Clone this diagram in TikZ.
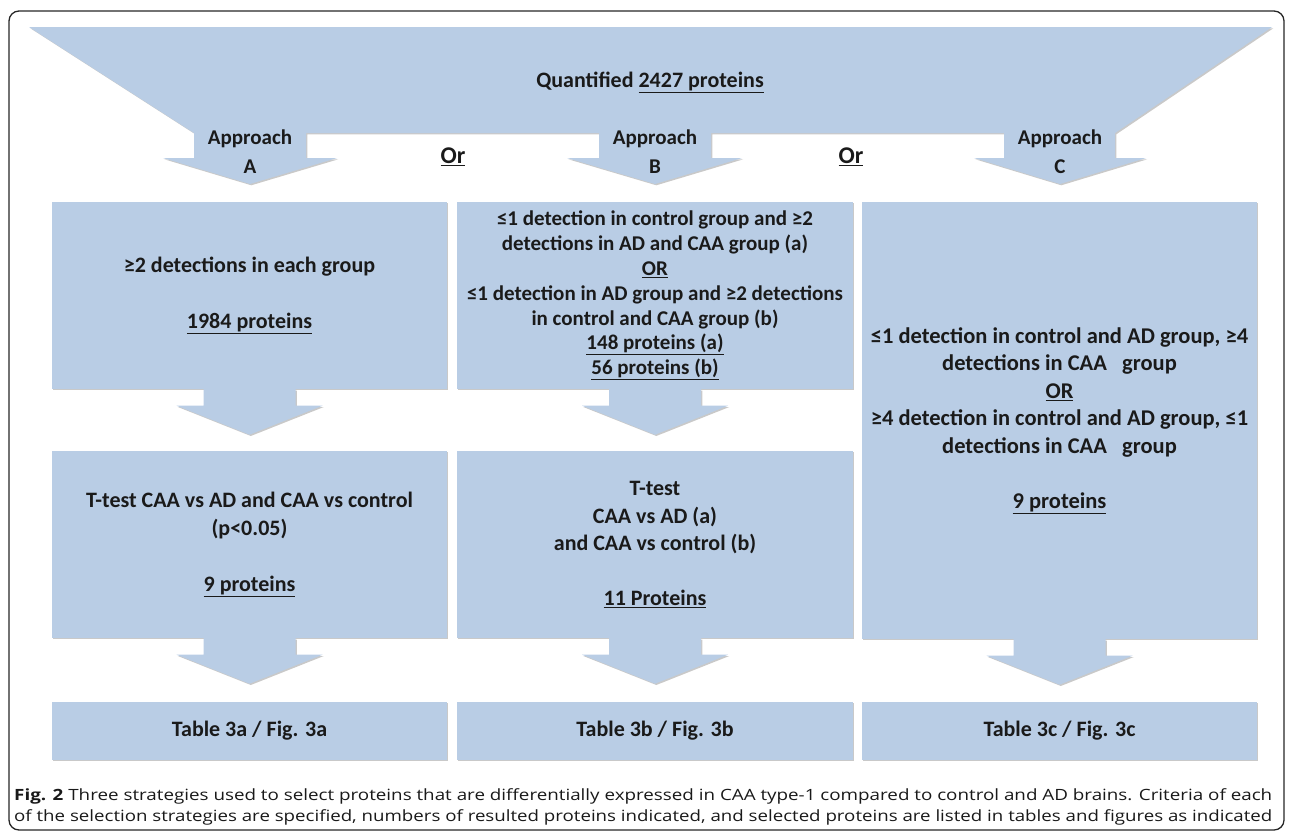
\documentclass[tikz,border=0pt]{standalone}
\usepackage{fontspec}
\setmainfont{Carlito}
\newfontfamily\capfont{Open Sans}
\usetikzlibrary{shadows,calc}
\definecolor{boxblue}{HTML}{B9CDE5}
\definecolor{txt}{HTML}{1A1A1A}
\tikzset{
  shad/.style={drop shadow={shadow xshift=1.3pt, shadow yshift=-1.3pt, opacity=0.30, fill=black!70}},
  blockbox/.style={fill=boxblue, draw=none, inner sep=0pt, align=center, text=txt, shad,
     font=\bfseries\fontsize{22}{27.5}\selectfont},
  lbl/.style={inner sep=0pt, align=center, text=txt, font=\bfseries\fontsize{22}{29}\selectfont},
  downarrow/.pic={\fill[boxblue, shad] (-46,0) -- (-46,16.5) -- (-73,16.5) -- (0,45.5) -- (73,16.5) -- (46,16.5) -- (46,0) -- cycle;},
}
\begin{document}
\begin{tikzpicture}[x=1pt,y=-1pt]
\useasboundingbox (0,0) rectangle (1290,833);
% frame
\draw[line width=1.3pt, rounded corners=10pt, black!85] (9,11) rectangle (1284,830);
% funnel
\fill[boxblue, shad] (29,27) -- (1272,27) -- (1115,133) -- (1115,158) -- (1146,158) -- (1060,184) -- (974,158) -- (1004,158) -- (1004,133)
 -- (711,133) -- (711,158) -- (742,158) -- (655,184) -- (567,158) -- (599,158) -- (599,133)
 -- (306,133) -- (306,158) -- (337,158) -- (250,184) -- (163,158) -- (194,158) -- (194,133) -- cycle;
\node[lbl] (quant) at (650,82) {Quantified \underline{2427 proteins}};
\node[lbl, font=\bfseries\fontsize{21}{29}\selectfont] (apA) at (250,152) {Approach\\A};
\node[lbl, font=\bfseries\fontsize{21}{29}\selectfont] (apB) at (655,152) {Approach\\B};
\node[lbl, font=\bfseries\fontsize{21}{29}\selectfont] (apC) at (1060,152) {Approach\\C};
\node[lbl, font=\bfseries\fontsize{24}{29}\selectfont] (or1) at (453,157) {\underline{Or}};
\node[lbl, font=\bfseries\fontsize{24}{29}\selectfont] (or2) at (851,157) {\underline{Or}};
% row 1
\node[blockbox, minimum width=395pt, minimum height=187pt] (a1) at (249.5,295.5)
  {≥2 detections in each group\\[28.5pt]\underline{1984 proteins}};
\node[blockbox, minimum width=396pt, minimum height=187pt, font=\bfseries\fontsize{21}{24.8}\selectfont] (b1) at (655,295.5)
  {≤1 detection in control group and ≥2\\detections in AD and CAA group (a)\\\underline{OR}\\≤1 detection in AD group and ≥2 detections\\in control and CAA group (b)\\\underline{148 proteins (a)}\\\underline{56 proteins (b)}};
\node[blockbox, minimum width=395pt, minimum height=437pt, font=\bfseries\fontsize{22.5}{27.5}\selectfont] (c1) at (1059.5,420.5)
  {≤1 detection in control and AD group, ≥4\\detections in CAA~~~group\\\underline{OR}\\≥4 detection in control and AD group, ≤1\\detections in CAA~~~group\\[27.5pt]\underline{9 proteins}};
% row 2
\node[blockbox, minimum width=395pt, minimum height=187pt, font=\bfseries\fontsize{22}{28.4}\selectfont] (a2) at (249.5,544.5)
  {T-test CAA vs AD and CAA vs control\\(p<0.05)\\[27pt]\underline{9 proteins}};
\node[blockbox, minimum width=396pt, minimum height=187pt] (b2) at (655,544.5)
  {T-test\\CAA vs AD (a)\\and CAA vs control (b)\\[27.5pt]\underline{11 Proteins}};
% tables
\node[blockbox, minimum width=395pt, minimum height=58pt] (a3) at (249.5,731) {Table 3a / Fig. 3a};
\node[blockbox, minimum width=396pt, minimum height=58pt] (b3) at (655,731) {Table 3b / Fig. 3b};
\node[blockbox, minimum width=395pt, minimum height=58pt] (c3) at (1059.5,731) {Table 3c / Fig. 3c};
% block arrows
\pic at (a1.south) {downarrow};
\pic at (b1.south) {downarrow};
\pic at (a2.south) {downarrow};
\pic at (b2.south) {downarrow};
\pic at (c1.south) {downarrow};
% caption
\node[anchor=west, inner sep=0pt, text=black!90] (cap1) at (14,796)
  {\resizebox{1258pt}{\height}{\capfont\fontsize{15.5}{18}\selectfont\textbf{Fig. 2} Three strategies used to select proteins that are differentially expressed in CAA type-1 compared to control and AD brains. Criteria of each}};
\node[anchor=west, inner sep=0pt, text=black!90] (cap2) at (14,817)
  {\resizebox{1258pt}{\height}{\capfont\fontsize{15.5}{18}\selectfont of the selection strategies are specified, numbers of resulted proteins indicated, and selected proteins are listed in tables and figures as indicated}};
\end{tikzpicture}
\end{document}
